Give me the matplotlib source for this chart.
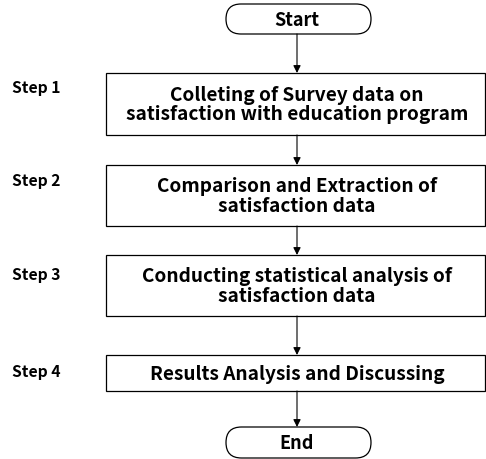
import matplotlib.pyplot as plt
from matplotlib.patches import FancyBboxPatch, Rectangle

plt.rcParams['font.family'] = ['Noto Sans CJK KR', 'DejaVu Sans']

# content
step_labels = ["Step 1", "Step 2", "Step 3", "Step 4"]
box_texts = [
    "Colleting of Survey data on\nsatisfaction with education program",
    "Comparison and Extraction of\nsatisfaction data",
    "Conducting statistical analysis of\nsatisfaction data",
    "Results Analysis and Discussing",
]
start_text = "Start"
end_text = "End"

# layout in pixels (top, bottom) of each box
box_top = [73, 165, 255, 355]
box_bot = [135, 226, 316, 391]
step_y = [88, 181, 275, 372]
box_left, box_right = 106, 485
cx = 297
term_left, term_right = 226, 371
start_top, start_bot = 4, 34
end_top, end_bot = 427, 458

fig = plt.figure(figsize=(4.86, 4.59), dpi=100)
ax = fig.add_axes([0, 0, 1, 1])
ax.set_xlim(0, 486)
ax.set_ylim(459, 0)
ax.axis('off')

lw = 0.9


def terminal(top, bot, text):
    h = bot - top
    p = FancyBboxPatch((term_left, top), term_right - term_left, h,
                       boxstyle=f"round,pad=0,rounding_size={h/2}",
                       fc='white', ec='black', lw=lw)
    ax.add_patch(p)
    ax.text(cx, (top + bot) / 2 + 1, text, ha='center', va='center',
            fontsize=13, fontweight='bold')


def arrow(y0, y1):
    ax.annotate('', xy=(cx, y1), xytext=(cx, y0),
                arrowprops=dict(arrowstyle='-|>', color='black', lw=0.8,
                                mutation_scale=11, shrinkA=0, shrinkB=0))


terminal(start_top, start_bot, start_text)
arrow(start_bot, box_top[0])

for i, (lab, txt) in enumerate(zip(step_labels, box_texts)):
    t, b = box_top[i], box_bot[i]
    ax.add_patch(Rectangle((box_left, t), box_right - box_left, b - t,
                           fc='white', ec='black', lw=lw))
    ax.text(cx, (t + b) / 2 + 1, txt, ha='center', va='center',
            fontsize=13.7, fontweight='bold', linespacing=1.05)
    ax.text(12, step_y[i], lab, ha='left', va='center',
            fontsize=11.3, fontweight='bold')
    nxt = box_top[i + 1] if i + 1 < len(box_top) else end_top
    arrow(b, nxt)

terminal(end_top, end_bot, end_text)

fig.savefig('out.png', dpi=100)
